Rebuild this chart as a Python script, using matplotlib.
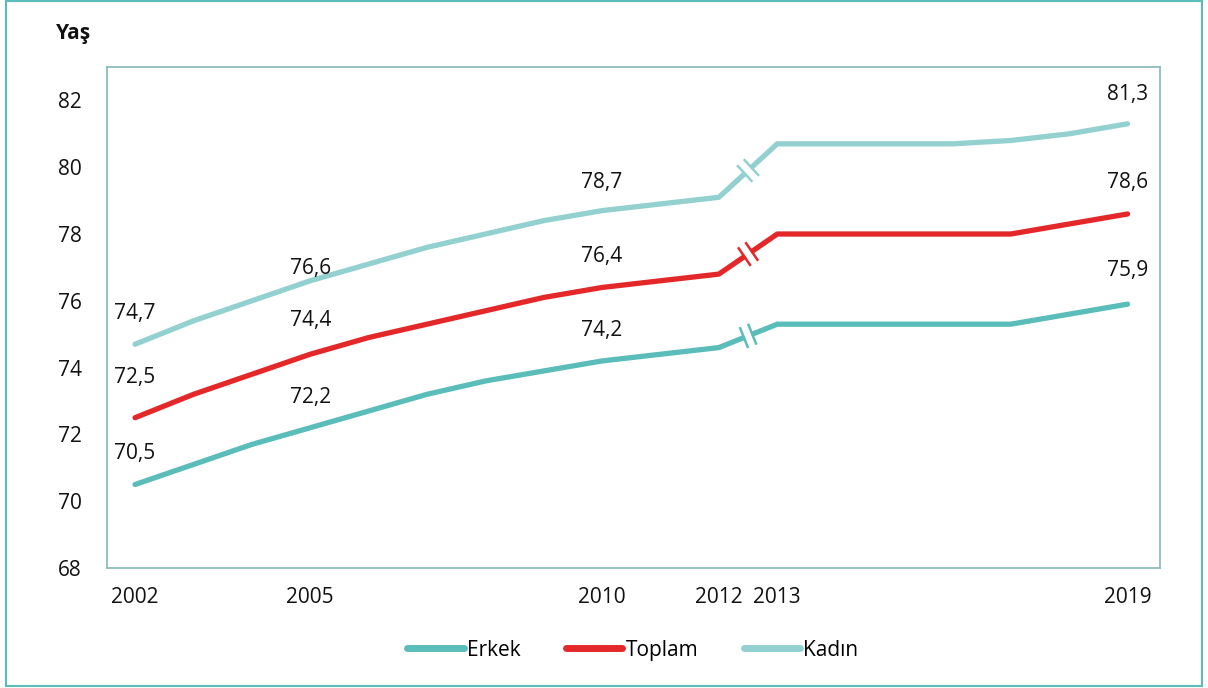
import numpy as np
import matplotlib
matplotlib.use("Agg")
import matplotlib.pyplot as plt
from matplotlib.patches import Rectangle

plt.rcParams['font.family'] = ['Open Sans', 'DejaVu Sans']

# Veriler
years = np.arange(2002, 2020)
erkek = [70.5, 71.1, 71.7, 72.2, 72.7, 73.2, 73.6, 73.9, 74.2, 74.4, 74.6,
         75.3, 75.3, 75.3, 75.3, 75.3, 75.6, 75.9]
toplam = [72.5, 73.2, 73.8, 74.4, 74.9, 75.3, 75.7, 76.1, 76.4, 76.6, 76.8,
          78.0, 78.0, 78.0, 78.0, 78.0, 78.3, 78.6]
kadin = [74.7, 75.4, 76.0, 76.6, 77.1, 77.6, 78.0, 78.4, 78.7, 78.9, 79.1,
         80.7, 80.7, 80.7, 80.7, 80.8, 81.0, 81.3]
tick_years = [2002, 2005, 2010, 2012, 2013, 2019]
label_years = [2002, 2005, 2010, 2019]

c_erkek = '#5bbdb9'
c_toplam = '#e4282a'
c_kadin = '#93d0d0'

fig = plt.figure(figsize=(12.08, 6.88), dpi=100)
ax = fig.add_axes([0.0886, 0.1744, 0.8714, 0.7282])

series = [('Erkek', erkek, c_erkek, [22, 22, 22, 24]),
          ('Toplam', toplam, c_toplam, [29, 24, 22, 23]),
          ('Kadın', kadin, c_kadin, [22, 9, 20, 21])]

for name, vals, col, offs in series:
    ax.plot(years, vals, color=col, lw=3.8, solid_capstyle='round',
            solid_joinstyle='round', label=name)
    for yr, off in zip(label_years, offs):
        v = vals[yr - 2002]
        ax.annotate(f'{v:.1f}'.replace('.', ','), (yr, v), xytext=(0, off),
                    textcoords='offset points', ha='center', va='center',
                    fontsize=15, color='#111111')

ax.set_xlim(2001.52, 2019.55)
ax.set_ylim(68, 83)
ax.set_yticks(np.arange(68, 83, 2))
ax.set_xticks(tick_years)
ax.tick_params(length=0, labelsize=15, colors='#111111')
ax.tick_params(axis='y', pad=18)
ax.tick_params(axis='x', pad=14)
for s in ax.spines.values():
    s.set_color('#8fbcbc')
    s.set_linewidth(1.3)

# kirik isaretleri (2012-2013 arasi)
fig.canvas.draw()
inv = fig.transFigure.inverted()
for name, vals, col, offs in series:
    p0 = ax.transData.transform((2012, vals[10]))
    p1 = ax.transData.transform((2013, vals[11]))
    mid = (p0 + p1) / 2
    d = (p1 - p0) / np.hypot(*(p1 - p0))
    n = np.array([-d[1], d[0]])
    g = inv.transform([mid - d * 3.5, mid + d * 3.5])
    fig.add_artist(plt.Line2D(g[:, 0], g[:, 1], color='white', lw=5,
                              solid_capstyle='butt'))
    for k in (-4.5, 4.5):
        c = mid + d * k
        seg = inv.transform([c - n * 10, c + n * 10])
        fig.add_artist(plt.Line2D(seg[:, 0], seg[:, 1], color=col, lw=1.8))

fig.text(0.061, 0.952, 'Yaş', fontsize=15, fontweight='bold',
         ha='center', va='center', color='#111111')

fig.legend(loc='center', bbox_to_anchor=(0.524, 0.055), ncol=3, frameon=False,
           fontsize=15, handlelength=2.7, handletextpad=0.15, columnspacing=2.2)
for h in fig.legends[0].get_lines():
    h.set_linewidth(5)

fig.add_artist(Rectangle((0.005, 0.003), 0.99, 0.995, transform=fig.transFigure,
                         fill=False, edgecolor='#5bbdb9', lw=1.5))

fig.savefig('out.png', dpi=100)
